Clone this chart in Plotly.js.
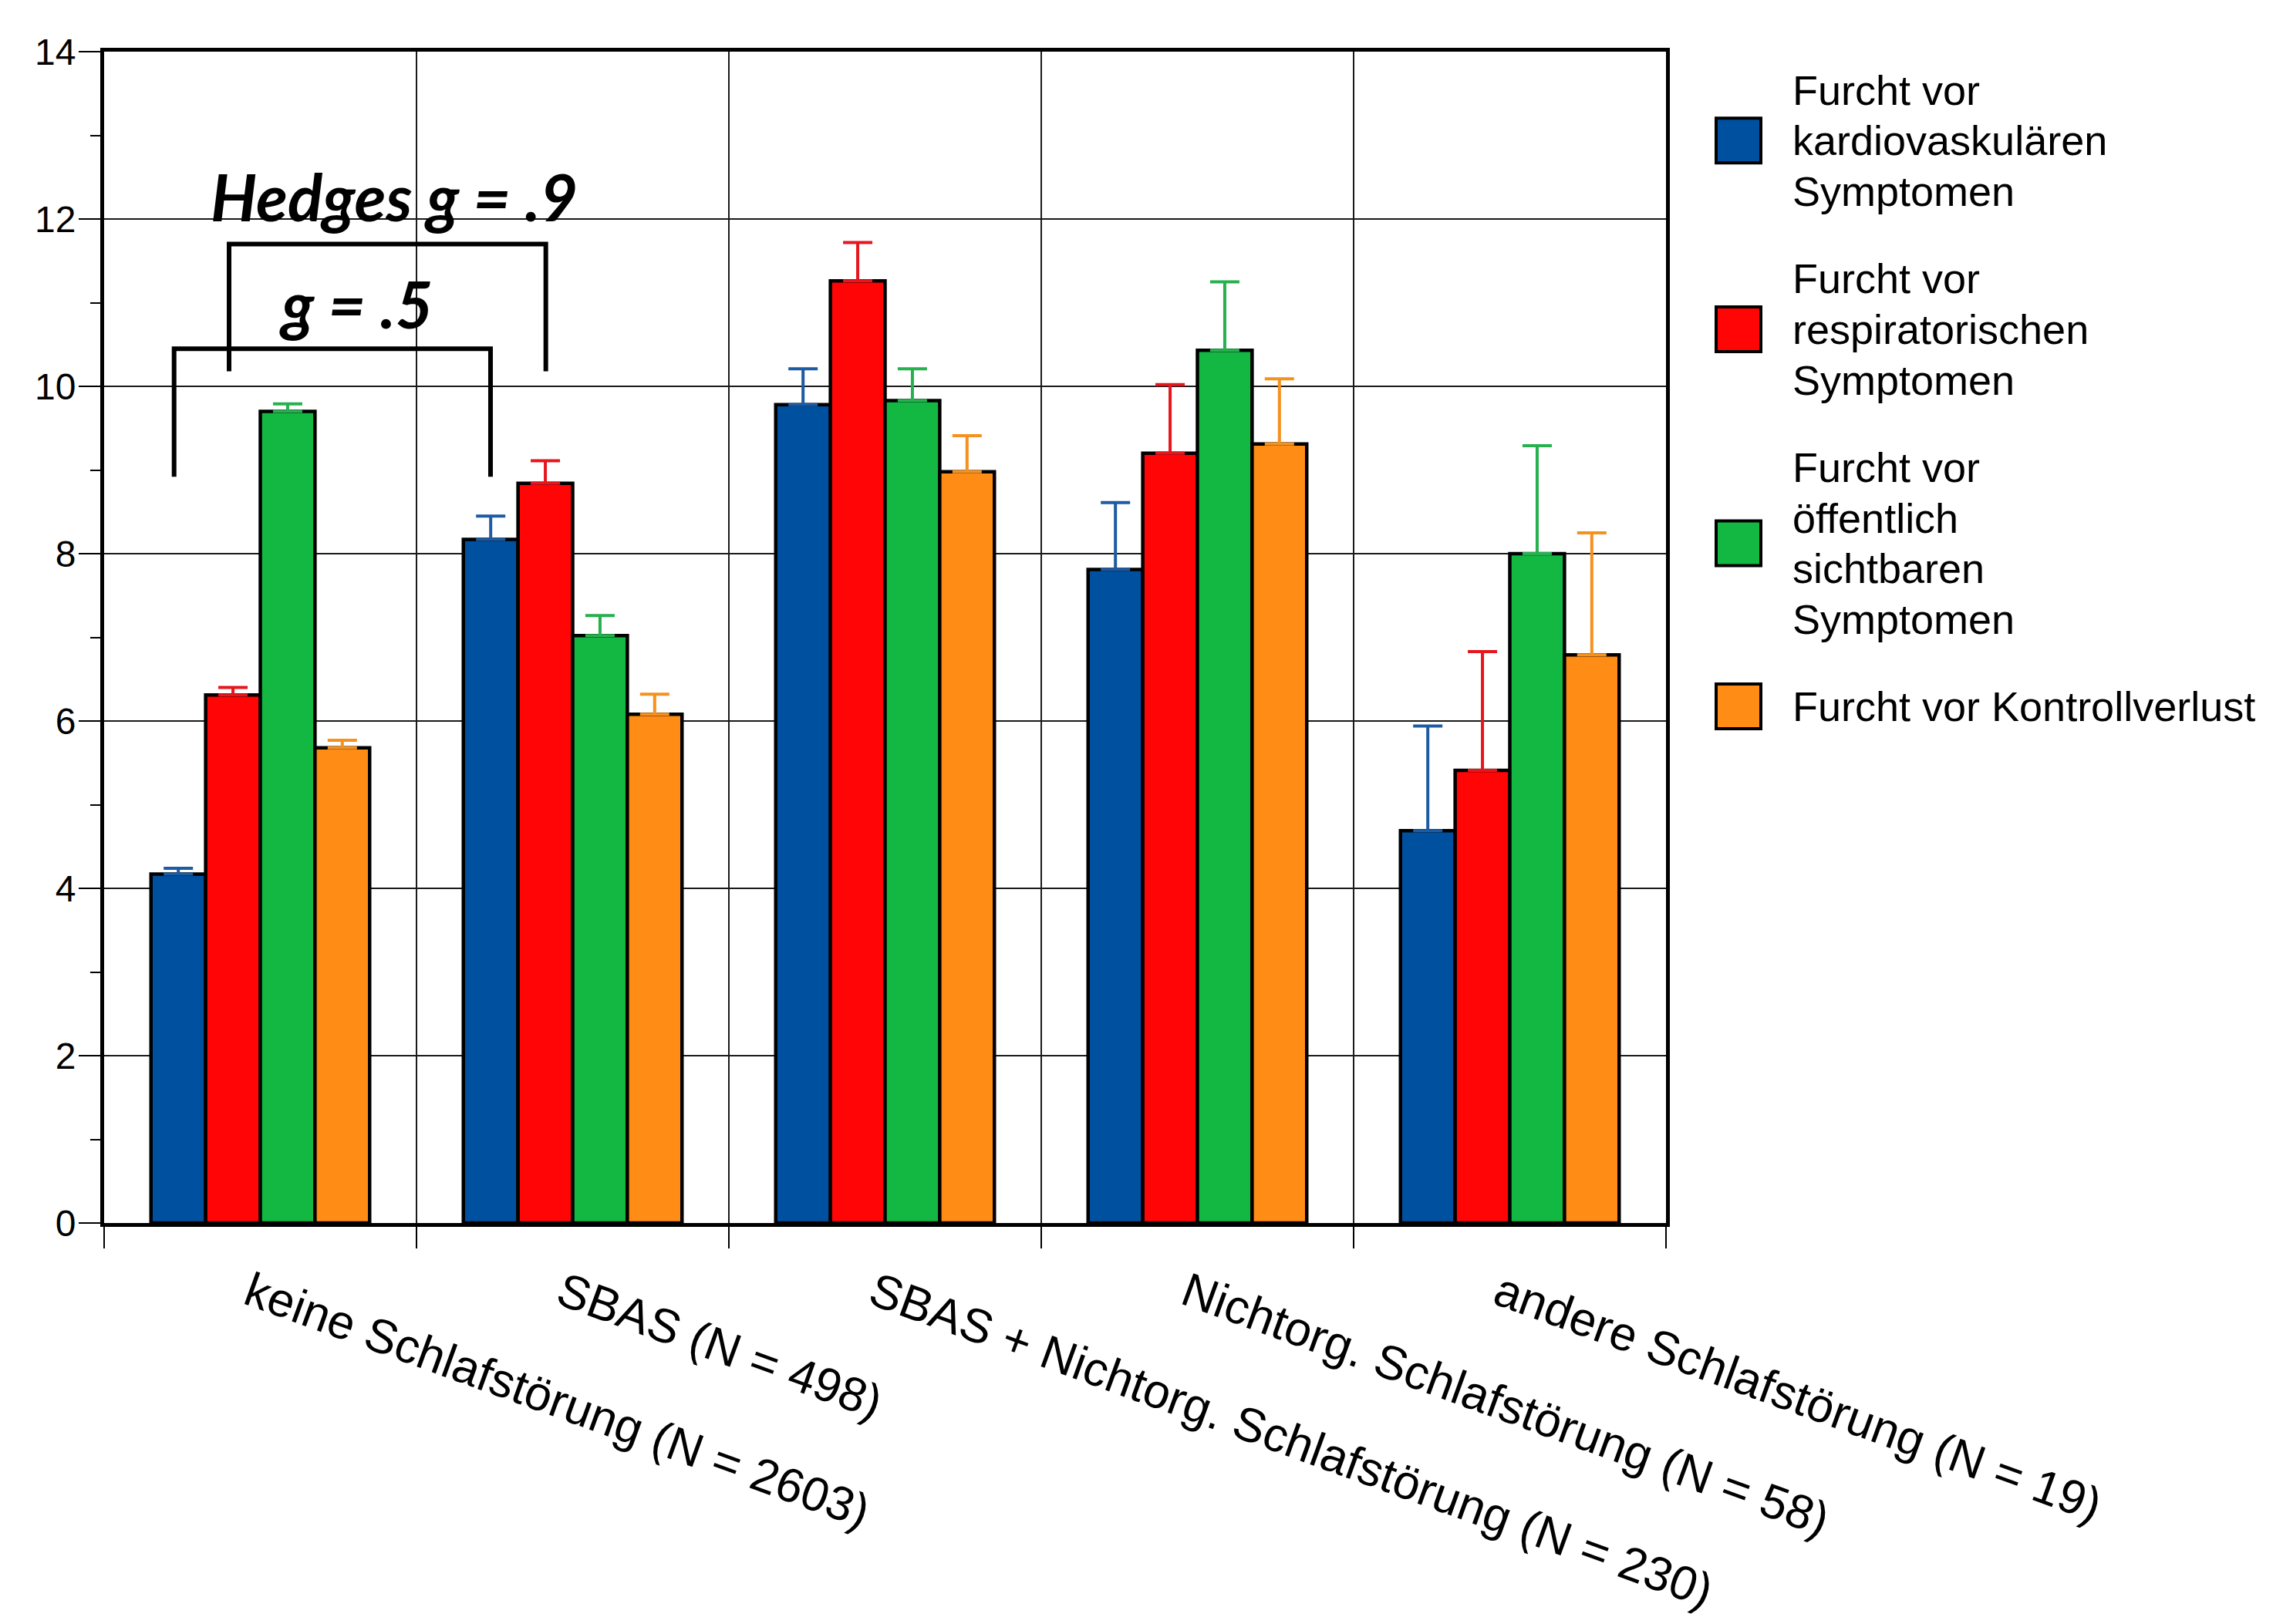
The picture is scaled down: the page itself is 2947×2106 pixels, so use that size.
<!DOCTYPE html>
<html><head><meta charset="utf-8">
<script src="https://cdn.plot.ly/plotly-3.0.1.min.js"></script>
<style>html,body{margin:0;padding:0;background:#fff}</style>
</head><body><div id="chart" style="width:2947px;height:2106px"></div>
<script>
// ---- data ----
const categories = [
  "keine Schlafstörung (N = 2603)",
  "SBAS (N = 498)",
  "SBAS + Nichtorg. Schlafstörung (N = 230)",
  "Nichtorg. Schlafstörung (N = 58)",
  "andere Schlafstörung (N = 19)"
];
const seriesNames = [
  "Furcht vor<br>kardiovaskulären<br>Symptomen",
  "Furcht vor<br>respiratorischen<br>Symptomen",
  "Furcht vor<br>öffentlich<br>sichtbaren<br>Symptomen",
  "Furcht vor Kontrollverlust"
];
const kardio      = [4.17, 8.17, 9.78, 7.81, 4.69];
const kardioErr   = [0.07, 0.28, 0.43, 0.80, 1.25];
const resp        = [6.31, 8.84, 11.26, 9.20, 5.41];
const respErr     = [0.09, 0.27, 0.46, 0.82, 1.42];
const oeffentlich = [9.70, 7.02, 9.83, 10.43, 8.00];
const oeffErr     = [0.09, 0.24, 0.38, 0.82, 1.29];
const kontrolle   = [5.68, 6.08, 8.98, 9.31, 6.79];
const kontrErr    = [0.09, 0.24, 0.43, 0.78, 1.46];
const effectLabels = ["Hedges g = .9", "g = .5"];
const yTicks = [0, 2, 4, 6, 8, 10, 12, 14];

// ---- styles ----
const fillColors = ["#0050a0", "#ff0505", "#13b843", "#ff8c14"];
const errColors  = ["#1d5ba3", "#e5161c", "#27b04e", "#f5911e"];
const values = [kardio, resp, oeffentlich, kontrolle];
const errs   = [kardioErr, respErr, oeffErr, kontrErr];

const traces = values.map((v, i) => ({
  type: 'bar',
  x: categories,
  y: v,
  name: seriesNames[i],
  showlegend: false,
  marker: {color: fillColors[i], line: {color: '#000', width: 4.5}},
  error_y: {type: 'data', symmetric: false, array: errs[i], arrayminus: v.map(() => 0),
            color: errColors[i], thickness: 4, width: 19}
}));

// plot area in pixels
const L = 135, R = 2160, T = 67, B = 1586;
const W = 2947, H = 2106;
const px2paperX = px => (px - L) / (R - L);
const px2paperY = py => (B - py) / (B - T);

// manual legend (large square swatches)
const shapes = [];
const annotations = [];
const lineGap = 65.8, blockGap = 113;
let yLine = 116.5;
seriesNames.forEach((nm, i) => {
  const lines = nm.split('<br>');
  const first = yLine;
  lines.forEach((ln, j) => {
    annotations.push({
      xref: 'paper', yref: 'paper', x: px2paperX(2322), y: px2paperY(yLine),
      xanchor: 'left', yanchor: 'middle', text: ln, showarrow: false,
      font: {family: 'Liberation Sans, Arial, sans-serif', size: 54, color: '#000'}
    });
    if (j < lines.length - 1) yLine += lineGap;
  });
  const mid = (first + yLine) / 2;
  shapes.push({
    type: 'rect', xref: 'paper', yref: 'paper',
    x0: px2paperX(2225), x1: px2paperX(2283),
    y0: px2paperY(mid - 29), y1: px2paperY(mid + 29),
    fillcolor: fillColors[i], line: {color: '#000', width: 4}
  });
  yLine += blockGap;
});

// effect size brackets
function bracket(xl, xr, yb, yt) {
  return {type: 'path', xref: 'x', yref: 'y',
    path: `M ${xl},${yb} L ${xl},${yt} L ${xr},${yt} L ${xr},${yb}`,
    line: {color: '#000', width: 6}};
}
shapes.push(bracket(-0.100, 0.914, 10.18, 11.70));
shapes.push(bracket(-0.276, 0.737, 8.92, 10.45));

const effFont = {family: 'Lato, Open Sans, sans-serif', size: 84, weight: 'bold', style: 'italic', color: '#000'};
annotations.push({
  xref: 'x', yref: 'y', x: 0.428, y: 12.27, text: effectLabels[0], showarrow: false,
  xanchor: 'center', yanchor: 'middle', font: effFont
});
annotations.push({
  xref: 'x', yref: 'y', x: 0.305, y: 10.99, text: effectLabels[1], showarrow: false,
  xanchor: 'center', yanchor: 'middle', font: effFont
});

const layout = {
  width: W, height: H,
  margin: {l: L, r: W - R, t: T, b: H - B, pad: 0},
  paper_bgcolor: '#fff', plot_bgcolor: '#fff',
  barmode: 'group', bargap: 0.3, bargroupgap: 0,
  showlegend: false,
  font: {family: 'Liberation Sans, Arial, sans-serif', color: '#000'},
  xaxis: {
    type: 'category', range: [-0.5, 4.5],
    tickson: 'boundaries', ticks: 'outside', ticklen: 28, tickwidth: 2, tickcolor: '#000',
    showgrid: true, gridcolor: '#1a1a1a', gridwidth: 2,
    showline: true, linecolor: '#000', linewidth: 5, mirror: true,
    tickangle: 20, tickfont: {size: 62, color: '#000'},
    ticklabelstandoff: 26, ticklabelshift: -14,
    automargin: false, fixedrange: true
  },
  yaxis: {
    range: [0, 14], tickvals: yTicks, ticktext: yTicks.map(String),
    ticks: 'outside', ticklen: 28, tickwidth: 2, tickcolor: '#000',
    minor: {dtick: 1, ticks: 'outside', ticklen: 13, tickwidth: 2, tickcolor: '#000', showgrid: false},
    showgrid: true, gridcolor: '#1a1a1a', gridwidth: 2, zeroline: false,
    showline: true, linecolor: '#000', linewidth: 5, mirror: true,
    tickfont: {size: 48, color: '#000'}, ticklabelstandoff: -6,
    automargin: false, fixedrange: true
  },
  shapes: shapes,
  annotations: annotations
};

Plotly.newPlot('chart', traces, layout, {staticPlot: true, displayModeBar: false});
</script></body></html>
